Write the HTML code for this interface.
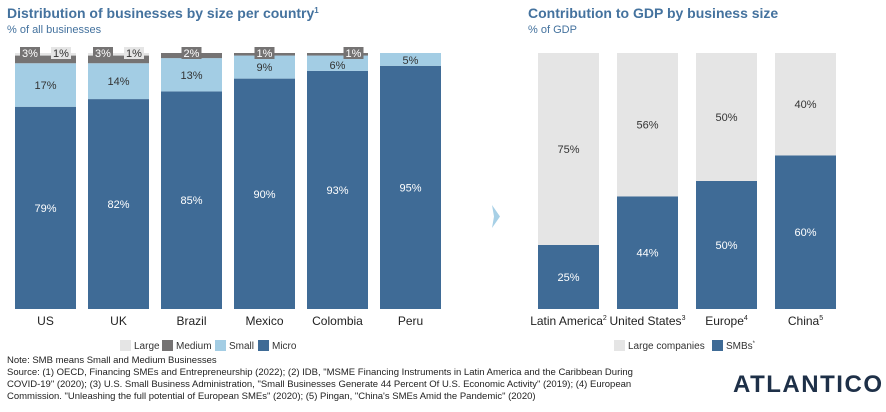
<!DOCTYPE html>
<html><head><meta charset="utf-8"><style>
body{margin:0;background:#fff;font-family:"Liberation Sans",sans-serif}
svg text{font-family:"Liberation Sans",sans-serif}
</style></head><body>
<svg id="s" width="886" height="407" viewBox="0 0 886 407">
<text x="7" y="18" font-size="14" font-weight="bold" fill="#44729e">Distribution of businesses by size per country<tspan font-size="8" dy="-5">1</tspan></text>
<text x="7" y="33" font-size="11" fill="#44729e">% of all businesses</text>
<text x="528" y="18" font-size="14" font-weight="bold" fill="#44729e">Contribution to GDP by business size</text>
<text x="528" y="33" font-size="11" fill="#44729e">% of GDP</text>
<polygon points="492,205 500,216.5 492,228 494,216.5" fill="#a7d0e6"/>
<g id="left"></g>
<g id="right"></g>
<g font-size="10" fill="#333">
<rect x="120" y="340" width="11" height="11" fill="#e5e5e5"/><text x="134" y="349">Large</text>
<rect x="162" y="340" width="11" height="11" fill="#757373"/><text x="176" y="349">Medium</text>
<rect x="215" y="340" width="11" height="11" fill="#a3cde4"/><text x="229" y="349">Small</text>
<rect x="258" y="340" width="11" height="11" fill="#3f6b96"/><text x="272" y="349">Micro</text>
</g>
<g font-size="10" fill="#333">
<rect x="614" y="340" width="11" height="11" fill="#e5e5e5"/><text x="628" y="349">Large companies</text>
<rect x="712" y="340" width="11" height="11" fill="#3f6b96"/><text x="726" y="349">SMBs<tspan font-size="6" dy="-4">*</tspan></text>
</g>
<g font-size="9.5" fill="#222">
<text x="7" y="363">Note: SMB means Small and Medium Businesses</text>
<text x="7" y="375">Source: (1) OECD, Financing SMEs and Entrepreneurship (2022); (2) IDB, "MSME Financing Instruments in Latin America and the Caribbean During</text>
<text x="7" y="387">COVID-19" (2020); (3) U.S. Small Business Administration, "Small Businesses Generate 44 Percent Of U.S. Economic Activity" (2019); (4) European</text>
<text x="7" y="399">Commission. "Unleashing the full potential of European SMEs" (2020); (5) Pingan, "China's SMEs Amid the Pandemic" (2020)</text>
</g>
<text x="733" y="392" font-size="24" font-weight="bold" fill="#1e3048" letter-spacing="1" textLength="150">ATLANTICO</text>
</svg>
<script>
const countries=["US","UK","Brazil","Mexico","Colombia","Peru"];
const micro=[79,82,85,90,93,95];
const small=[17,14,13,9,6,5];
const medium=[3,3,2,1,1,0];
const large=[1,1,0,0,0,0];
const regions=["Latin America","United States","Europe","China"];
const regionSup=["2","3","4","5"];
const smb=[25,44,50,60];
const largeCo=[75,56,50,40];
const NS="http://www.w3.org/2000/svg";
function mk(t,a,p){const e=document.createElementNS(NS,t);for(const k in a)e.setAttribute(k,a[k]);p.appendChild(e);return e;}
const topY=53,bot=309,H=bot-topY;
const y=v=>H*v/100;
const L=document.getElementById('left');
countries.forEach((c,i)=>{
  const x=15+i*73,w=61;
  let base=bot;
  const segs=[[micro[i],'#3f6b96','micro'],[small[i],'#a3cde4','small'],[medium[i],'#757373','medium'],[large[i],'#e5e5e5','large']];
  const pos={};
  segs.forEach(([v,col,n])=>{
    const h=y(v);const r=mk('rect',{x:x,y:base-h,width:w,height:h,fill:col},L);
    
    
    pos[n]=[base-h,h];base-=h;
  });
  let t=mk('text',{x:x+w/2,y:pos.micro[0]+pos.micro[1]/2+4,'text-anchor':'middle','font-size':11,fill:'#fff'},L);t.textContent=micro[i]+'%';
  
  let sy=pos.small[0]+pos.small[1]/2+4; if(pos.small[1]<16) sy=pos.small[0]+pos.small[1]-2;
  t=mk('text',{x:x+w/2,y:sy,'text-anchor':'middle','font-size':11,fill:'#333'},L);t.textContent=small[i]+'%';
  
  const lab=(v,cx,bg,fg,n)=>{
    const g=mk('g',{},L);
    mk('rect',{x:cx-10,y:topY-6,width:20,height:12,fill:bg},g);
    const tt=mk('text',{x:cx,y:topY+4,'text-anchor':'middle','font-size':11,fill:fg},g);tt.textContent=v+'%';
  };
  if(large[i]>0){lab(medium[i],x+15,'#757373','#fff','medium');lab(large[i],x+46,'#e5e5e5','#333','large');}
  else if(medium[i]>0){lab(medium[i],x+w/2+(i==4?16:0),'#757373','#fff','medium');}
  t=mk('text',{x:x+w/2,y:325,'text-anchor':'middle','font-size':12,fill:'#222'},L);t.textContent=c;
  
});
const R=document.getElementById('right');
regions.forEach((c,i)=>{
  const x=538+i*79,w=61;
  const hs=y(smb[i]),hl=y(largeCo[i]);
  let r=mk('rect',{x:x,y:bot-hs,width:w,height:hs,fill:'#3f6b96'},R);
  
  r=mk('rect',{x:x,y:bot-hs-hl,width:w,height:hl,fill:'#e5e5e5'},R);
  
  let t=mk('text',{x:x+w/2,y:bot-hs/2+4,'text-anchor':'middle','font-size':11,fill:'#fff'},R);t.textContent=smb[i]+'%';
  
  t=mk('text',{x:x+w/2,y:bot-hs-hl/2+4,'text-anchor':'middle','font-size':11,fill:'#333'},R);t.textContent=largeCo[i]+'%';
  
  t=mk('text',{x:x+w/2,y:325,'text-anchor':'middle','font-size':12,fill:'#222'},R);t.textContent=c;
  
  const s=mk('tspan',{'font-size':7,dy:-5},t);s.textContent=regionSup[i];
});
</script>
</body></html>
